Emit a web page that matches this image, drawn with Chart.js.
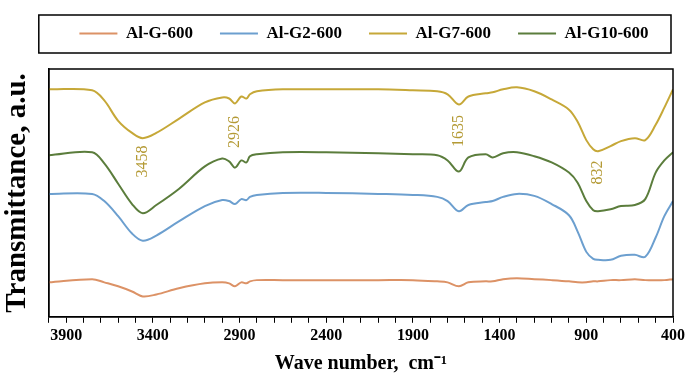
<!DOCTYPE html>
<html>
<head>
<meta charset="utf-8">
<script src="https://cdn.jsdelivr.net/npm/chart.js@4"></script>
<style>
  html, body { margin: 0; padding: 0; background: #fff; }
  #wrap { width: 688px; height: 379px; }
</style>
</head>
<body>
<div id="wrap"><canvas id="ftir"></canvas></div>
<script>
const waveNumbers = [4000, 3750, 3680, 3600, 3520, 3458, 3380, 3250, 3100, 3000, 2960, 2926, 2890, 2860, 2840, 2800,
  2650, 2400, 2100, 1900, 1760, 1700, 1635, 1580, 1480, 1440, 1380, 1300, 1200, 1100, 1000, 950, 900, 860, 832,
  760, 700, 620, 560, 500, 450, 400];

const seriesNames = ['Al-G-600', 'Al-G2-600', 'Al-G7-600', 'Al-G10-600'];

const alG600 = [13.9, 15.2, 13.9, 12.3, 10.2, 8.2, 9.0, 11.5, 13.5, 13.9, 13.5, 12.3, 13.9, 13.5, 14.3, 14.8,
  14.8, 14.8, 14.8, 14.8, 14.3, 13.9, 12.3, 13.9, 14.3, 14.3, 15.2, 15.6, 15.2, 14.8, 14.3, 13.9, 13.9, 14.3, 14.3,
  14.8, 14.8, 15.2, 14.8, 14.8, 14.8, 15.2];

const alG2600 = [49.6, 49.6, 46.7, 40.6, 33.6, 30.7, 32.8, 38.5, 44.7, 47.1, 46.7, 45.5, 47.5, 47.1, 48.4, 49.2,
  50.0, 50.0, 49.6, 49.2, 48.4, 46.7, 42.6, 45.1, 46.3, 46.7, 48.4, 49.6, 48.8, 45.5, 41.0, 34.4, 26.2, 23.4, 23.0,
  23.0, 24.6, 25.0, 24.2, 32.0, 40.6, 46.7];

const alG7600 = [91.8, 91.4, 87.3, 79.1, 74.2, 72.1, 74.2, 79.9, 86.5, 88.5, 88.1, 86.1, 88.9, 88.1, 89.8, 91.0,
  91.8, 91.8, 91.8, 91.4, 91.0, 89.8, 85.7, 88.9, 90.2, 90.6, 91.8, 92.6, 91.0, 87.7, 83.6, 78.7, 71.3, 67.6, 66.8,
  68.9, 70.9, 72.1, 71.3, 77.5, 84.4, 91.8];

const alG10600 = [65.2, 66.4, 61.9, 53.7, 45.5, 41.8, 45.1, 51.6, 60.7, 63.9, 62.7, 60.2, 63.1, 62.3, 64.8, 65.6,
  66.4, 66.4, 66.0, 65.6, 65.2, 63.1, 58.6, 64.3, 65.6, 64.3, 66.0, 66.4, 64.8, 62.3, 58.2, 54.1, 46.7, 43.0, 42.6,
  43.4, 44.7, 45.1, 47.5, 58.2, 63.1, 66.4];

// peak labels written on the chart
const peakLabels = ['3458', '2926', '1635', '832'];
const peakWaveNumbers = [3458, 2926, 1635, 832];
const peakLabelLevels = [62.7, 74.6, 75.0, 58.2];

const colors = ['#dc9266', '#6c9fcf', '#c6a838', '#5b7d3c'];
const peakColor = '#b49a35';
const serif = '"Liberation Serif", "Times New Roman", serif';

function toPoints(values) {
    return values.map((v, i) => ({ x: waveNumbers[i], y: v }));
}

// frame around the plot, box around the legend and the peak numbers
const decorations = {
    id: 'decorations',
    beforeInit(chart) {
        const fit = chart.legend.fit;
        chart.legend.fit = function () {
            fit.bind(chart.legend)();
            this.height += 7;
        };
    },
    afterLayout(chart) {
        // legend items sit a bit right of the canvas centre and higher up
        chart.legend.left += 40;
        chart.legend.top -= 10;
    },
    afterDraw(chart) {
        const ctx = chart.ctx;
        const area = chart.chartArea;
        const lg = chart.legend;
        ctx.save();
        ctx.strokeStyle = '#000';
        ctx.lineWidth = 1.5;
        ctx.strokeRect(area.left, area.top, area.right - area.left, area.bottom - area.top);
        ctx.strokeRect(area.left - 10, lg.top + 17, area.right - area.left + 8, 38);

        const xs = chart.scales.x, ys = chart.scales.y;
        ctx.fillStyle = peakColor;
        ctx.font = '16px ' + serif;
        ctx.textAlign = 'center';
        ctx.textBaseline = 'middle';
        peakLabels.forEach((txt, i) => {
            ctx.save();
            ctx.translate(xs.getPixelForValue(peakWaveNumbers[i]), ys.getPixelForValue(peakLabelLevels[i]));
            ctx.rotate(-Math.PI / 2);
            ctx.fillText(txt, 0, 0);
            ctx.restore();
        });
        ctx.restore();
    }
};

const seriesValues = [alG600, alG2600, alG7600, alG10600];

new Chart(document.getElementById('ftir').getContext('2d'), {
    type: 'line',
    data: {
        datasets: seriesNames.map((name, i) => ({
            label: name,
            data: toPoints(seriesValues[i]),
            borderColor: colors[i],
            backgroundColor: colors[i],
            borderWidth: 2,
            pointRadius: 0,
            tension: 0.35,
            fill: false
        }))
    },
    options: {
        responsive: true,
        maintainAspectRatio: false,
        animation: false,
        layout: { padding: { top: 8, left: 0, right: 0, bottom: 3 } },
        plugins: {
            tooltip: { enabled: false },
            legend: {
                position: 'top',
                labels: {
                    usePointStyle: true,
                    pointStyle: 'line',
                    pointStyleWidth: 38,
                    boxHeight: 2,
                    padding: 27,
                    color: '#000',
                    font: { family: serif, size: 17, weight: 'bold' }
                }
            }
        },
        scales: {
            x: {
                type: 'linear',
                reverse: true,
                min: 400,
                max: 4000,
                border: { display: true, color: '#000', width: 1.5 },
                grid: { display: true, drawOnChartArea: false, drawTicks: true, tickLength: 6, color: '#000' },
                ticks: {
                    stepSize: 100,
                    autoSkip: false,
                    maxRotation: 0,
                    padding: 3,
                    color: '#000',
                    font: { family: serif, size: 16, weight: 'bold' },
                    callback: v => (v % 500 === 400 ? String(v) : '')
                },
                title: {
                    display: true,
                    text: 'Wave number,  cm⁻¹',
                    color: '#000',
                    font: { family: serif, size: 20, weight: 'bold' },
                    padding: { top: 4, bottom: 0 }
                }
            },
            y: {
                min: 0,
                max: 100,
                border: { display: true, color: '#000', width: 1.5 },
                grid: { display: false },
                ticks: { display: false },
                title: {
                    display: true,
                    text: 'Transmittance, a.u.',
                    color: '#000',
                    font: { family: serif, size: 29, weight: 'bold' },
                    padding: { top: 0, bottom: 6 }
                }
            }
        }
    },
    plugins: [decorations]
});
</script>
</body>
</html>
